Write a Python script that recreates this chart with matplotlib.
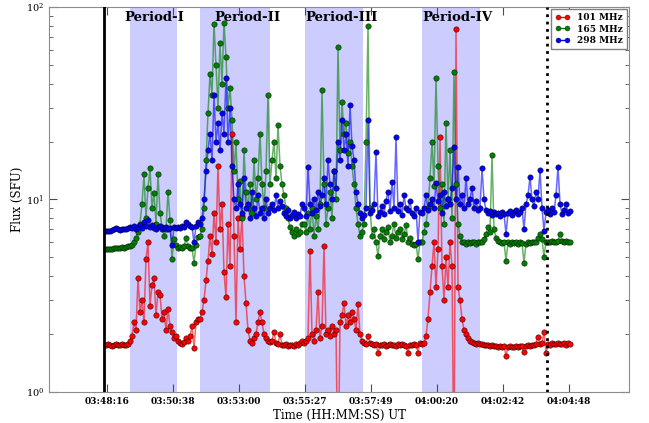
import numpy as np
import matplotlib
matplotlib.use('Agg')
import matplotlib.pyplot as plt
from matplotlib.lines import Line2D

plt.rcParams['font.family'] = 'DejaVu Serif'
plt.rcParams['mathtext.fontset'] = 'dejavuserif'
plt.rcParams['mathtext.default'] = 'bf'

# flux in SFU, one value per sample
flux_101 = [
    1.75, 1.77, 1.76, 1.74, 1.76, 1.78, 1.75, 1.76, 1.77, 1.75, 1.76, 1.78,
    1.85, 1.95, 2.3, 2.1, 3.9, 2.6, 3.0, 2.3, 4.9, 6.0, 2.8, 3.6, 3.9, 2.5, 3.3, 3.2, 2.4, 2.6, 2.1, 2.7, 2.2, 2.05, 1.9, 1.95,
    1.85, 1.8, 1.78, 1.82, 1.9, 1.85, 1.95, 2.2, 1.7, 2.3, 2.4,
    2.4, 2.6, 3.0, 3.8, 4.8, 6.5, 5.2, 8.5, 6.0, 15.0, 7.0, 9.5, 4.2, 3.1, 7.5, 4.5, 22.0, 6.5, 2.3, 8.0, 5.5, 8.2, 4.0, 2.9,
    2.1, 1.85, 1.8, 1.9, 2.0, 2.3, 2.6, 2.3, 2.0, 1.9, 1.85, 1.82,
    1.85, 2.05, 1.8, 1.78, 2.0, 1.76, 1.75, 1.78, 1.74, 1.76, 1.75, 1.74, 1.77, 1.75, 1.8, 1.85,
    1.8, 1.85, 1.9, 5.4, 2.0, 1.85, 2.1, 3.3, 1.9, 2.2, 5.7, 2.0, 2.1, 1.95, 2.2, 2.0, 2.1, 0.3, 2.3, 2.5, 2.9, 2.2, 2.5, 2.3,
    2.6, 2.4, 2.1, 2.85, 2.0, 1.85,
    1.8, 1.78, 1.95, 1.8, 1.77, 1.76, 1.78, 1.6, 1.76, 1.75, 1.77, 1.74, 1.76, 1.78, 1.75, 1.76, 1.74, 1.77, 1.75, 1.78,
    1.76, 1.74, 1.6, 1.76, 1.75, 1.78, 1.76, 1.6, 1.8,
    1.78, 1.8, 1.95, 2.4, 3.3, 4.5, 6.0, 3.5, 5.5, 21.0, 4.5, 3.0, 5.0, 3.5, 6.0, 4.5, 0.3, 77.0, 3.5, 3.0, 2.4, 2.1, 2.0,
    1.9, 1.85, 1.82, 1.8, 1.78, 1.79, 1.77,
    1.77, 1.76, 1.75, 1.76, 1.74, 1.75, 1.73, 1.74, 1.72, 1.73, 1.72, 1.74, 1.54, 1.72, 1.73, 1.71, 1.72, 1.73, 1.72, 1.74,
    1.73, 1.61, 1.74, 1.75, 1.74, 1.76, 1.75, 1.78, 1.93, 1.77, 1.8, 2.05, 1.6, 1.78, 1.76, 1.79, 1.77, 1.78, 1.8, 1.77,
    1.78, 1.8, 1.76, 1.79, 1.77,
]

flux_165 = [
    5.5, 5.5, 5.55, 5.55, 5.6, 5.6, 5.6, 5.6, 5.65, 5.6, 5.65, 5.7,
    5.75, 5.8, 6.0, 6.3, 6.8, 7.5, 9.5, 13.5, 8.0, 11.5, 14.5, 9.0, 10.8, 7.5, 13.5, 8.5, 7.2, 6.5, 7.0, 11.0, 7.8, 4.9, 6.2, 5.8,
    5.6, 5.65, 5.6, 5.7, 6.3, 5.7, 5.6, 5.6, 4.7, 5.8, 6.4,
    6.5, 7.0, 9.0, 16.0, 28.0, 45.0, 35.0, 82.0, 50.0, 30.0, 65.0, 40.0, 83.0, 55.0, 30.0, 38.0, 26.0, 14.0, 20.0, 10.0,
    12.5, 8.0, 18.0, 11.0, 9.0, 12.0, 8.5, 16.0, 10.0, 13.0, 22.0, 12.0, 9.0, 14.0, 35.0, 12.0,
    16.0, 20.0, 13.0, 24.5, 15.0, 12.0, 10.5, 9.0, 8.0, 7.2, 6.8, 6.5, 7.0, 6.6, 6.8, 7.5,
    7.5, 6.8, 8.5, 7.0, 9.0, 6.5, 8.2, 7.0, 9.5, 37.0, 12.0, 7.5, 9.0, 11.0, 8.0, 14.0, 10.0, 62.0, 18.0, 32.0, 22.0, 25.0,
    17.5, 20.0, 15.0, 12.0, 9.0, 7.5, 6.5, 6.8,
    7.5, 20.0, 80.0, 9.0, 6.5, 7.0, 6.0, 5.1, 6.5, 7.0, 6.2, 6.8, 7.2, 6.0, 6.5, 7.5, 6.3, 6.8, 7.0, 6.2, 6.6, 7.4, 6.0,
    6.3, 5.9, 5.8, 5.9, 4.9, 6.0,
    6.0, 6.8, 7.5, 9.0, 13.0, 20.0, 11.7, 43.0, 15.0, 9.0, 12.0, 7.5, 25.0, 10.0, 18.0, 8.0, 46.0, 12.0, 7.5, 6.5, 6.0,
    6.0, 5.9, 6.0, 5.95, 6.0, 6.0, 5.9, 6.0, 6.0,
    6.0, 6.2, 6.6, 7.2, 6.8, 17.1, 7.0, 6.3, 6.1, 6.0, 5.95, 6.0, 4.8, 6.0, 5.9, 6.0, 5.95, 6.0, 5.9, 6.0, 5.95, 4.7,
    5.9, 6.0, 5.95, 6.0, 6.05, 6.0, 6.3, 6.6, 6.2, 5.05, 6.0, 6.05, 6.0, 6.1, 6.0, 6.05, 6.1, 6.6, 6.1, 6.0, 6.1, 6.05, 6.0,
]

flux_298 = [
    6.85, 6.9, 6.9, 6.95, 7.0, 7.1, 7.0, 6.95, 7.0, 7.05, 7.0, 7.1,
    7.2, 7.1, 7.3, 7.0, 7.2, 7.4, 7.1, 7.6, 7.3, 7.8, 7.2, 7.4, 7.1, 7.0, 7.2, 7.3, 7.0, 7.1, 7.2, 7.0, 7.1, 5.8, 7.2, 7.1,
    7.2, 7.1, 7.3, 7.2, 7.6, 7.5, 7.3, 7.2, 6.0, 7.3, 7.6,
    7.5, 8.0, 10.0, 14.0, 18.0, 22.0, 16.0, 35.0, 20.0, 25.0, 18.0, 28.0, 22.0, 43.0, 20.0, 30.0, 15.0, 10.0, 9.0, 12.0,
    9.5, 8.5, 13.0, 9.0, 9.5, 8.0, 11.0, 9.0, 8.2, 10.5, 8.5, 9.0, 8.0, 10.0, 8.5, 9.0,
    9.5, 8.8, 10.5, 9.0, 9.8, 9.2, 8.5, 8.2, 8.8, 8.0, 8.3, 8.6, 8.0, 8.4, 8.2, 9.5,
    9.0, 8.2, 14.8, 9.5, 8.5, 10.0, 8.8, 11.0, 9.2, 10.5, 13.0, 9.5, 16.0, 12.0, 10.0, 14.0, 11.5, 20.0, 16.0, 26.0, 18.0,
    22.0, 15.0, 31.0, 19.0, 16.0, 11.0, 9.5, 8.5, 8.0,
    8.3, 9.0, 26.0, 8.5, 8.8, 9.5, 17.7, 8.2, 8.6, 9.2, 8.4, 9.8, 11.0, 8.7, 12.4, 9.0, 21.0, 8.7, 9.5, 8.3, 10.5, 9.0,
    8.8, 9.8, 8.5, 8.2, 9.0, 6.0, 8.6,
    8.5, 9.0, 10.5, 8.8, 9.5, 10.0, 9.0, 12.2, 9.8, 10.5, 8.5, 11.0, 9.2, 10.0, 9.5, 11.5, 18.8, 10.0, 14.8, 9.5, 10.5,
    9.0, 13.0, 9.5, 10.0, 11.5, 9.0, 9.8, 8.8, 9.0,
    14.6, 10.0, 8.8, 8.5, 8.7, 8.3, 8.6, 8.4, 8.5, 8.2, 8.6, 8.4, 6.6, 8.5, 8.7, 8.3, 8.6, 8.8, 8.4, 8.6, 9.0, 7.0, 9.5,
    10.5, 13.1, 10.0, 9.2, 11.0, 10.0, 14.3, 9.0, 6.9, 8.6, 8.8, 8.4, 9.0, 8.6, 10.5, 14.8, 9.5, 8.4, 8.8, 9.5, 8.5, 8.7,
]

series_names = ['101 MHz', '165 MHz', '298 MHz']
series_colors = ['red', 'green', 'blue']

# time labels at every 33rd sample
tick_samples = [0.5, 33.5, 66.5, 99.5, 132.5, 165.5, 198.5, 231.5]
tick_labels = ['03:48:16', '03:50:38', '03:53:00', '03:55:27',
               '03:57:49', '04:00:20', '04:02:42', '04:04:48']

periods = ['Period-I', 'Period-II', 'Period-III', 'Period-IV']
period_start = [12, 47, 99.5, 158]
period_end = [35.5, 82, 128.5, 187]
period_text_x = [9, 54, 99.5, 158]

start_mark = -1      # solid black line
end_mark = 220.5     # dotted black line

fig = plt.figure(figsize=(6.49, 4.23), dpi=100)
ax = fig.add_axes([0.0755, 0.0733, 0.8937, 0.9102])

for a, b in zip(period_start, period_end):
    ax.axvspan(a, b, color='blue', alpha=0.2, lw=0, zorder=0)

handles = []
for flux, name, col in zip([flux_101, flux_165, flux_298], series_names, series_colors):
    rgb = matplotlib.colors.to_rgb(col)
    idx = np.arange(len(flux))
    ax.plot(idx, flux, '-', color=rgb + (0.6,), lw=1.1, zorder=2)
    ax.plot(idx, flux, 'o', ls='none', mfc=col, mec=(0, 0, 0, 0.7), mew=0.45, ms=3.9, zorder=3)
    handles.append(Line2D([], [], color=col, lw=1.0, marker='o', ms=3.6, mfc=col, mec=(0, 0, 0, 0.6), mew=0.4))

ax.axvline(start_mark, color='k', lw=2, zorder=4)
ax.axvline(end_mark, color='k', lw=2, ls=':', zorder=4)

for name, xt in zip(periods, period_text_x):
    ax.text(xt, 0.972, name, transform=ax.get_xaxis_transform(), fontsize=9.5,
            fontweight='bold', ha='left', va='center', zorder=5)

ax.set_yscale('log')
ax.set_ylim(1, 100)
ax.set_xlim(-28.5, 261.5)
ax.set_xticks(tick_samples)
ax.set_xticklabels(tick_labels, fontweight='bold', fontsize=6.5)
ax.tick_params(axis='y', labelsize=7)
ax.tick_params(which='both', direction='in', top=True, right=True, color='0.3')
ax.tick_params(which='major', length=6)
ax.tick_params(which='minor', length=3)
for s in ax.spines.values():
    s.set_color('0.55')

ax.set_xlabel('Time (HH:MM:SS) UT', fontsize=8.5, labelpad=2)
ax.set_ylabel('Flux (SFU)', fontsize=8.5, labelpad=1)

leg = ax.legend(handles, series_names, loc='upper right', prop={'weight': 'bold', 'size': 6.5},
                handlelength=1.7, numpoints=2, fancybox=False, borderaxespad=0.25,
                edgecolor='0.5', framealpha=1, labelspacing=0.3)
leg.set_zorder(6)

fig.savefig('out.png', dpi=100)
